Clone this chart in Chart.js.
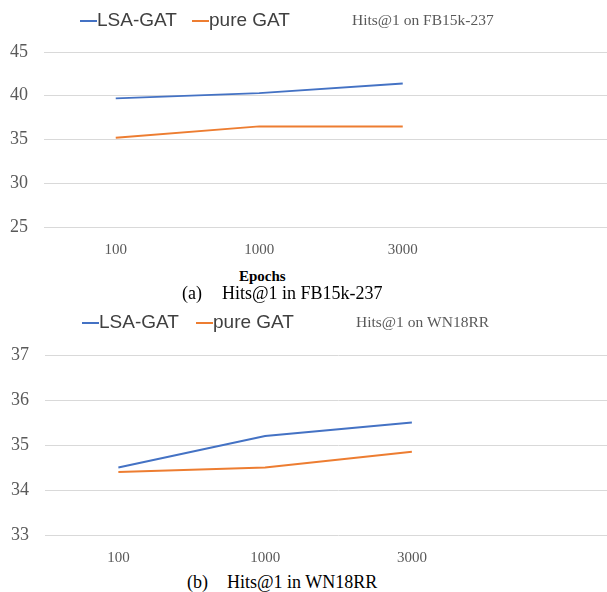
<!DOCTYPE html>
<html>
<head>
<meta charset="utf-8">
<script src="https://cdn.jsdelivr.net/npm/chart.js@4/dist/chart.umd.min.js"></script>
<style>
body{margin:0;width:607px;height:592px;overflow:hidden;background:#fff;position:relative}
canvas{position:absolute;left:0}
.t{position:absolute;font-family:"Liberation Serif",serif;white-space:nowrap;color:#000;line-height:20px}
</style>
</head>
<body>
<canvas id="fb" width="618" height="262" style="top:0"></canvas>
<canvas id="wn" width="632" height="272" style="top:300px"></canvas>

<div class="t" style="left:239px;top:266px;font-size:15px;font-weight:bold">Epochs</div>
<div class="t" style="left:182px;top:283px;font-size:18px">(a)</div>
<div class="t" style="left:222px;top:283px;font-size:18px">Hits@1 in FB15k-237</div>
<div class="t" style="left:187px;top:572px;font-size:18px">(b)</div>
<div class="t" style="left:227px;top:572px;font-size:18px">Hits@1 in WN18RR</div>

<script>
// data
const epochs = ['100', '1000', '3000', ''];
const seriesNames = ['LSA-GAT', 'pure GAT'];
const lsaFB = [39.7, 40.3, 41.4];
const pureFB = [35.2, 36.5, 36.5];
const lsaWN = [34.5, 35.2, 35.5];
const pureWN = [34.4, 34.5, 34.85];
const fbRange = [25, 45, 5];
const wnRange = [33, 37, 1];

const blue = '#4472C4';
const orange = '#ED7D31';

// legend drawn on the same row as the small chart title
const lineLegend = {
  id: 'lineLegend',
  afterDraw(chart, args, opts) {
    const ctx = chart.ctx;
    ctx.save();
    ctx.textBaseline = 'middle';
    chart.data.datasets.forEach((ds, i) => {
      const x = opts.xs[i];
      ctx.strokeStyle = ds.borderColor;
      ctx.lineWidth = 2;
      ctx.beginPath();
      ctx.moveTo(x, opts.y);
      ctx.lineTo(x + 17, opts.y);
      ctx.stroke();
      ctx.fillStyle = '#404040';
      ctx.font = '19px "Liberation Sans", Arial, sans-serif';
      ctx.fillText(ds.label, x + 17, opts.y);
    });
    ctx.fillStyle = '#595959';
    ctx.font = '15.5px "Liberation Serif", serif';
    ctx.fillText(opts.title, opts.titleX, opts.y);
    ctx.restore();
  }
};

function makeChart(id, lsa, pure, range, cfg) {
  return new Chart(document.getElementById(id), {
    type: 'line',
    data: {
      labels: epochs,
      datasets: [
        {label: seriesNames[0], data: lsa, borderColor: blue, borderWidth: 2, pointRadius: 0, tension: 0},
        {label: seriesNames[1], data: pure, borderColor: orange, borderWidth: 2, pointRadius: 0, tension: 0}
      ]
    },
    options: {
      responsive: false,
      animation: false,
      layout: {padding: {top: cfg.top, bottom: cfg.bottom, left: 0, right: 0}},
      plugins: {
        legend: {display: false},
        tooltip: {enabled: false},
        lineLegend: {xs: cfg.xs, y: cfg.legendY, title: cfg.title, titleX: cfg.titleX}
      },
      scales: {
        x: {
          offset: true,
          afterFit: s => { s.height = 32; },
          grid: {display: false, drawTicks: false},
          border: {display: false},
          ticks: {color: '#595959', padding: 14, font: {family: '"Liberation Serif"', size: 15}, maxRotation: 0, autoSkip: false}
        },
        y: {
          min: range[0], max: range[1],
          afterFit: s => { s.width = cfg.left; },
          grid: {color: '#d9d9d9', drawTicks: false},
          border: {display: false},
          ticks: {stepSize: range[2], color: '#595959', padding: 16, font: {family: '"Liberation Serif"', size: 18}}
        }
      }
    },
    plugins: [lineLegend]
  });
}

makeChart('fb', lsaFB, pureFB, fbRange, {
  top: 52, bottom: 3, left: 44, legendY: 21, xs: [80, 192], title: 'Hits@1 on FB15k-237', titleX: 352
});
makeChart('wn', lsaWN, pureWN, wnRange, {
  top: 55, bottom: 5, left: 45, legendY: 23, xs: [82, 196], title: 'Hits@1 on WN18RR', titleX: 356
});
</script>
</body>
</html>
